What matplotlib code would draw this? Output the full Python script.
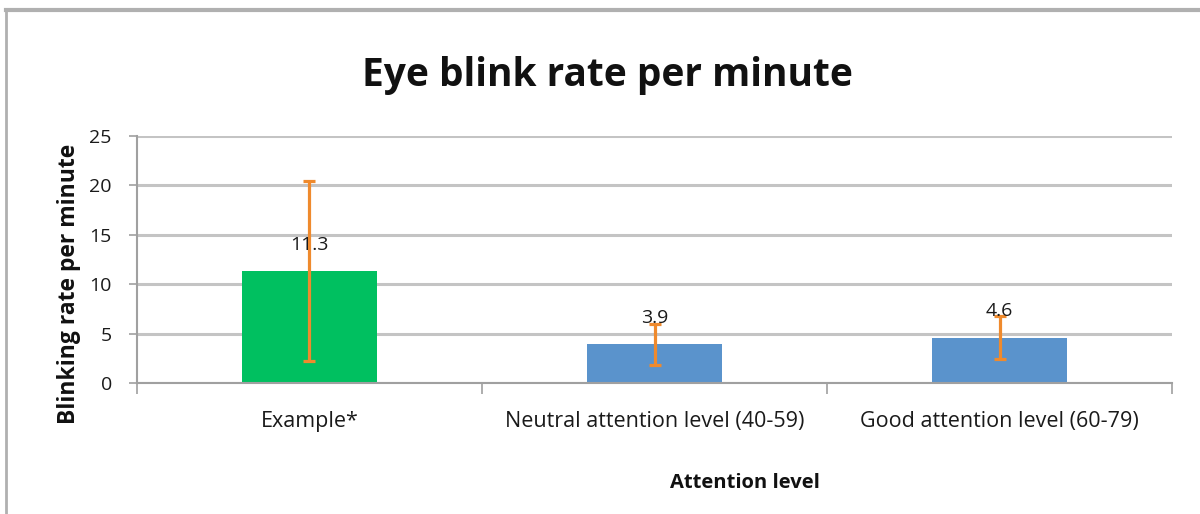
import numpy as np
import matplotlib.pyplot as plt
from matplotlib.lines import Line2D

categories = ['Example*', 'Neutral attention level (40-59)', 'Good attention level (60-79)']
rates = [11.3, 3.9, 4.6]
errors = [9.1, 2.1, 2.2]
bar_colors = ['#00c060', '#5a93cc', '#5a93cc']
y_ticks = [0, 5, 10, 15, 20, 25]

plt.rcParams['font.family'] = ['Open Sans', 'DejaVu Sans']

fig = plt.figure(figsize=(12, 5.14), dpi=100)
ax = fig.add_axes([0.114, 0.2549, 0.863, 0.4805])

# chart frame (grey border, top and left)
fig.add_artist(Line2D([0.005, 1.0], [0.981, 0.981], transform=fig.transFigure, color='#b0b0b0', lw=3))
fig.add_artist(Line2D([0.005, 0.005], [0.0, 0.981], transform=fig.transFigure, color='#b0b0b0', lw=2))

x = np.arange(len(categories))
ax.bar(x, rates, width=0.39, color=bar_colors, zorder=2)
ax.errorbar(x, rates, yerr=errors, fmt='none', ecolor='#ef8a2d', elinewidth=2.3,
            capsize=4.5, capthick=2.3, zorder=3)

for xi, v in zip(x, rates):
    ax.annotate(f'{v}', (xi, v), xytext=(0, 19), textcoords='offset points',
                ha='center', va='center', fontsize=14, color='#1a1a1a', zorder=4)

ax.set_xlim(-0.5, len(categories) - 0.5)
ax.set_ylim(0, 25)
ax.set_yticks(y_ticks)
ax.tick_params(axis='y', labelsize=14, length=6, color='#a0a0a0', width=1.2, pad=12, labelcolor='#1a1a1a')
ax.yaxis.grid(True, color='#c4c4c4', lw=2.2, zorder=0)
ax.set_axisbelow(True)

ax.set_xticks(x)
ax.set_xticklabels(categories, fontsize=15.5, color='#1a1a1a')
ax.set_xticks(np.arange(-0.5, len(categories)), minor=True)
ax.tick_params(axis='x', which='major', length=0, pad=20)
ax.tick_params(axis='x', which='minor', length=8, color='#a0a0a0', width=1.2)

for s in ['top', 'right']:
    ax.spines[s].set_visible(False)
for s in ['left', 'bottom']:
    ax.spines[s].set_color('#a0a0a0')
    ax.spines[s].set_linewidth(1.5)

ax.set_ylabel('Blinking rate per minute', fontsize=16.5, fontweight='bold', color='#111111')
ax.yaxis.set_label_coords(-0.054, 0.40)
ax.set_xlabel('Attention level', fontsize=14.5, fontweight='bold', color='#111111')
ax.xaxis.set_label_coords(0.587, -0.365)

fig.text(0.506, 0.854, 'Eye blink rate per minute', ha='center', va='center',
         fontsize=28, fontweight='bold', color='#111111')

fig.savefig('out.png', dpi=100)
